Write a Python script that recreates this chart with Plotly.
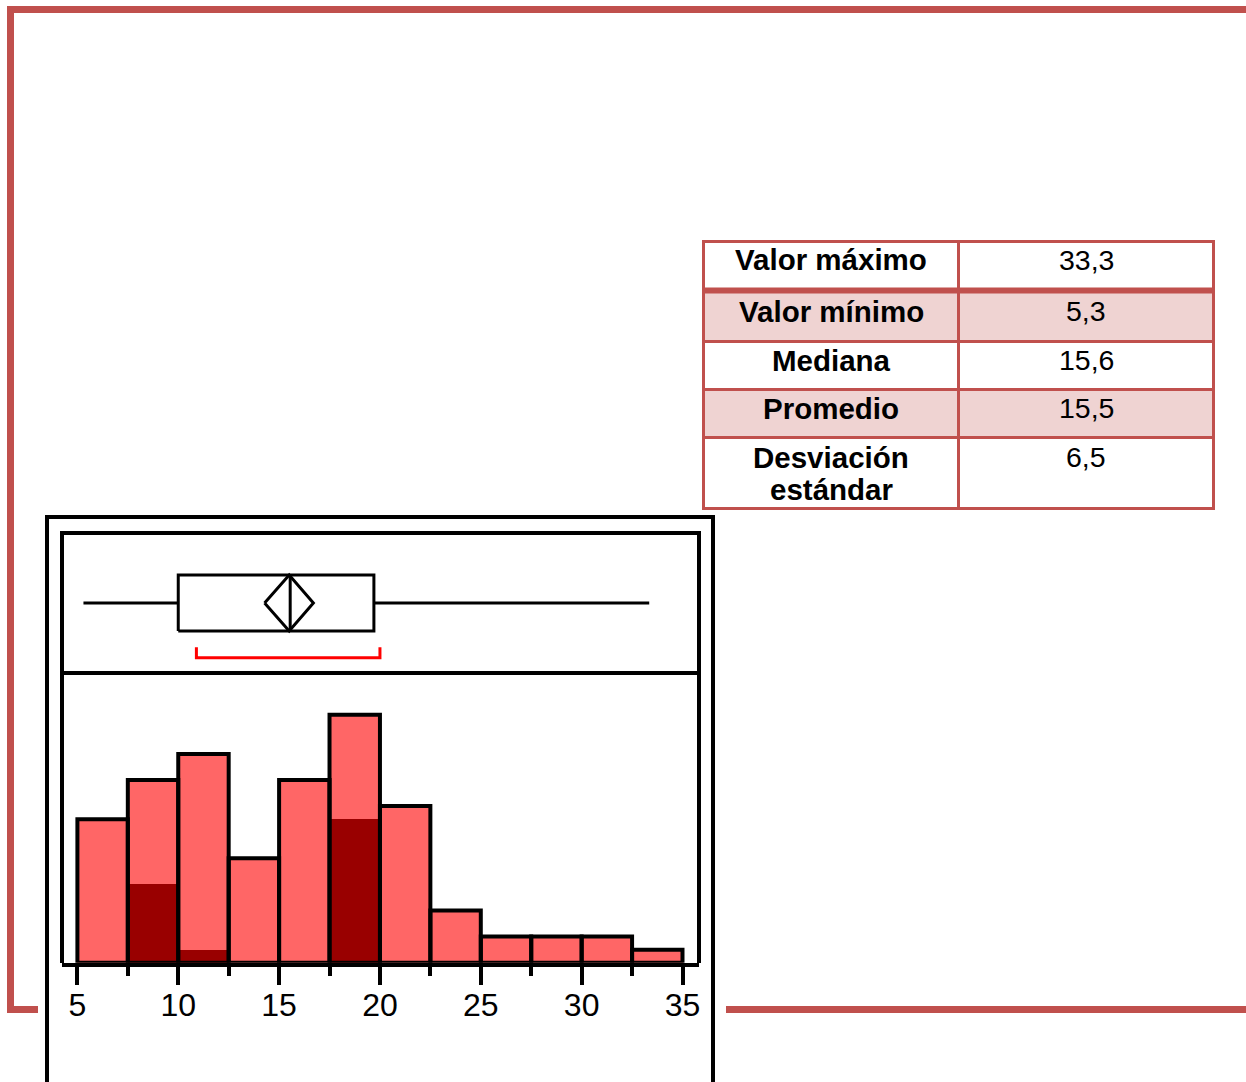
import plotly.graph_objects as go

# ---------------- data ----------------
bin_edges = [5, 7.5, 10, 12.5, 15, 17.5, 20, 22.5, 25, 27.5, 30, 32.5, 35]
counts = [11, 14, 16, 8, 14, 19, 12, 4, 2, 2, 2, 1]
highlight_counts = [0, 6, 1, 0, 0, 11, 0, 0, 0, 0, 0, 0]
tick_vals = [5, 10, 15, 20, 25, 30, 35]
tick_labels = ["5", "10", "15", "20", "25", "30", "35"]
minor_tick_vals = [7.5, 12.5, 17.5, 22.5, 27.5, 32.5]

box_min = 5.3
box_q1 = 10.0
box_median = 15.55
box_q3 = 19.7
box_max = 33.35
mean_value = 15.5
mean_ci = [14.28, 16.7]
shortest_half = [10.9, 20.0]

table_labels = ["Valor máximo", "Valor mínimo", "Mediana", "Promedio", "Desviación<br>estándar"]
table_values = ["33,3", "5,3", "15,6", "15,5", "6,5"]

# ---------------- helpers ----------------
OFF = 0  # body margin removed via post_script
W, H = 1246 - OFF, 1082 - OFF
def X(px):
    return (px - OFF) / W
def Y(py):
    return 1 - (py - OFF) / H

FONT = "Liberation Sans, Arial, sans-serif"
RED_FRAME = "#C0504D"
LIGHT = "#FF6666"
DARK = "#990000"
PINK = "#EFD3D2"

centers = [(a + b) / 2 for a, b in zip(bin_edges[:-1], bin_edges[1:])]
widths = [b - a for a, b in zip(bin_edges[:-1], bin_edges[1:])]

fig = go.Figure()

# histogram
fig.add_trace(go.Bar(x=centers, y=counts, width=widths, marker=dict(color=LIGHT, line=dict(width=0)),
                     xaxis="x", yaxis="y", showlegend=False, hoverinfo="skip"))
fig.add_trace(go.Bar(x=centers, y=highlight_counts, width=widths, marker=dict(color=DARK, line=dict(width=0)),
                     xaxis="x", yaxis="y", showlegend=False, hoverinfo="skip"))
fig.add_trace(go.Bar(x=centers, y=counts, width=widths,
                     marker=dict(color="rgba(0,0,0,0)", line=dict(width=4, color="black")),
                     xaxis="x", yaxis="y", showlegend=False, hoverinfo="skip"))

# box plot (outlier box style)
BOX_LO, BOX_HI, MID = 0.3, 0.7, 0.5
BR_LO, BR_HI = 0.109, 0.184
def seg(xs, ys, color="black", width=3):
    fig.add_trace(go.Scatter(x=xs, y=ys, mode="lines", line=dict(color=color, width=width),
                             xaxis="x2", yaxis="y2", showlegend=False, hoverinfo="skip"))

seg([box_min, box_q1], [MID, MID])
seg([box_q3, box_max], [MID, MID])
seg([box_q1, box_q3, box_q3, box_q1, box_q1], [BOX_LO, BOX_LO, BOX_HI, BOX_HI, BOX_LO])
seg([box_median, box_median], [BOX_LO, BOX_HI])
seg([mean_ci[0], mean_value, mean_ci[1], mean_value, mean_ci[0]], [MID, BOX_HI, MID, BOX_LO, MID])
seg([shortest_half[0], shortest_half[0], shortest_half[1], shortest_half[1]], [BR_HI, BR_LO, BR_LO, BR_HI],
    color="#FF0000", width=3)

x_lo = 5 - (77.4 - 62) / 20.17
x_hi = 5 + (699 - 77.4) / 20.17
y_top = (962.7 - 672.7) / 13.05

shapes = []
def line(x0, y0, x1, y1, color="black", width=4):
    shapes.append(dict(type="line", xref="paper", yref="paper", x0=X(x0), y0=Y(y0), x1=X(x1), y1=Y(y1),
                       line=dict(color=color, width=width)))

# red page frame
line(7, 9.5, 1250, 9.5, RED_FRAME, 7)
line(10.5, 6, 10.5, 1013, RED_FRAME, 7)
line(7, 1009.5, 38, 1009.5, RED_FRAME, 7)
line(726, 1009.5, 1250, 1009.5, RED_FRAME, 7)

# chart frames
line(45, 517, 715, 517)
line(47, 515, 47, 1090)
line(713, 515, 713, 1090)
shapes.append(dict(type="rect", xref="paper", yref="paper", x0=X(62), y0=Y(673), x1=X(699), y1=Y(533),
                   line=dict(color="black", width=4)))
line(62, 673, 62, 963)
line(699, 673, 699, 963)

# table
tx0, tx1, tx2 = 703.5, 958.5, 1213.5
row_edges = [241.5, 290.5, 341.5, 389.5, 437.5, 508.5]
for i in range(len(table_labels)):
    if i % 2 == 1:
        shapes.append(dict(type="rect", xref="paper", yref="paper", x0=X(tx0), x1=X(tx2),
                           y0=Y(row_edges[i + 1]), y1=Y(row_edges[i]), line=dict(width=0),
                           fillcolor=PINK, layer="below"))
for j, ry in enumerate(row_edges):
    line(tx0 - 1.5, ry, tx2 + 1.5, ry, RED_FRAME, 6 if j == 1 else 3)
for cx in (tx0, tx1, tx2):
    line(cx, row_edges[0], cx, row_edges[-1], RED_FRAME, 3)

annotations = []
label_cx = (tx0 + tx1) / 2
value_cx = (tx1 + tx2) / 2
text_y = [260, 311, 360, 408, 457]
for i, (lab, val) in enumerate(zip(table_labels, table_values)):
    for k, part in enumerate(lab.split("<br>")):
        annotations.append(dict(text="<b>" + part + "</b>", x=X(label_cx), y=Y(text_y[i] + 33 * k),
                                xref="paper", yref="paper", showarrow=False, xanchor="center", yanchor="middle",
                                font=dict(family=FONT, size=29.5, color="black")))
    annotations.append(dict(text=val, x=X(value_cx), y=Y(text_y[i]), xref="paper", yref="paper",
                            showarrow=False, xanchor="center", yanchor="middle",
                            font=dict(family=FONT, size=28.5, color="black")))

fig.update_layout(
    width=W, height=H, margin=dict(l=0, r=0, t=0, b=0),
    paper_bgcolor="white", plot_bgcolor="rgba(0,0,0,0)",
    barmode="overlay", bargap=0,
    xaxis=dict(domain=[X(62), X(699)], range=[x_lo, x_hi], anchor="y",
               showgrid=False, zeroline=False, showline=True, linewidth=4, linecolor="black",
               ticks="outside", ticklen=18, tickwidth=4, tickcolor="black",
               tickvals=tick_vals, ticktext=tick_labels, ticklabelstandoff=-7,
               tickfont=dict(family=FONT, size=32, color="black"),
               minor=dict(ticks="outside", ticklen=9, tickwidth=4, tickcolor="black", tickvals=minor_tick_vals)),
    yaxis=dict(domain=[Y(962.7), Y(672.7)], range=[0, y_top], visible=False, anchor="x"),
    xaxis2=dict(domain=[X(62), X(699)], range=[x_lo, x_hi], matches="x", visible=False, anchor="y2"),
    yaxis2=dict(domain=[Y(673), Y(533)], range=[0, 1], visible=False, anchor="x2"),
    shapes=shapes, annotations=annotations,
)

fig.write_html("out.html", config={"displayModeBar": False, "staticPlot": True},
               post_script="document.body.style.margin='0';document.body.style.overflow='hidden';")
